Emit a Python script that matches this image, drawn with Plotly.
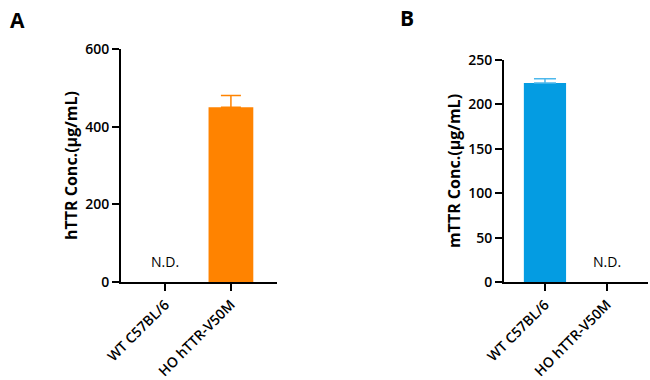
import plotly.graph_objects as go

categories = ["WT C57BL/6", "HO hTTR-V50M"]
httr_mean = [None, 450]
httr_err = [None, 30]
mttr_mean = [224, None]
mttr_err = [5, None]
nd_a = ["N.D.", ""]
nd_b = ["", "N.D."]

orange = "#FF8300"
blue = "#049CE2"
FONT = "Open Sans"
W, H = 650, 380


def px(x):
    return x / W


def py(y):
    return 1 - y / H


fig = go.Figure()
fig.add_trace(go.Bar(x=categories, y=httr_mean, marker=dict(color=orange, line=dict(width=0)),
                     width=0.68,
                     error_y=dict(type="data", symmetric=False, array=httr_err,
                                  arrayminus=[0 if e is not None else None for e in httr_err],
                                  color=orange, thickness=1.5, width=10),
                     xaxis="x", yaxis="y", showlegend=False))
fig.add_trace(go.Bar(x=categories, y=mttr_mean, marker=dict(color=blue, line=dict(width=0)),
                     width=0.68,
                     error_y=dict(type="data", symmetric=False, array=mttr_err,
                                  arrayminus=[0 if e is not None else None for e in mttr_err],
                                  color="#4DB8EC", thickness=1.5, width=11),
                     xaxis="x2", yaxis="y2", showlegend=False))

axcommon = dict(showline=True, linecolor="black", linewidth=2, ticks="outside", ticklen=7,
                tickwidth=2, tickcolor="black", showgrid=False, zeroline=False, automargin=False,
                tickfont=dict(family=FONT, size=14, color="black", weight=600))

fig.update_layout(
    width=W, height=H, margin=dict(l=0, r=0, t=0, b=0, autoexpand=False),
    paper_bgcolor="white", plot_bgcolor="white", bargap=0.3,
    xaxis=dict(domain=[px(121), px(277)], anchor="y", range=[-0.67, 1.7], tickangle=-45, **axcommon),
    yaxis=dict(domain=[py(282), py(49)], anchor="x", range=[0, 600], tickvals=[0, 200, 400, 600],
               title=dict(text="hTTR Conc.(μg/mL)", font=dict(family=FONT, size=16, color="black", weight=700), standoff=4),
               **axcommon),
    xaxis2=dict(domain=[px(504), px(648)], anchor="y2", range=[-0.66, 1.66], tickangle=-45, **axcommon),
    yaxis2=dict(domain=[py(282), py(60)], anchor="x2", range=[0, 250], tickvals=[0, 50, 100, 150, 200, 250],
                title=dict(text="mTTR Conc.(μg/mL)", font=dict(family=FONT, size=16, color="black", weight=700), standoff=4),
                **axcommon),
)

for i, c in enumerate(categories):
    if nd_a[i]:
        fig.add_annotation(x=c, y=0, xref="x", yref="y", text=nd_a[i], showarrow=False,
                           yanchor="bottom", yshift=9, font=dict(family=FONT, size=14, color="black"))
    if nd_b[i]:
        fig.add_annotation(x=c, y=0, xref="x2", yref="y2", text=nd_b[i], showarrow=False,
                           yanchor="bottom", yshift=9, font=dict(family=FONT, size=14, color="black"))

fig.add_annotation(x=px(17), y=py(20), xref="paper", yref="paper", text="A", showarrow=False,
                   xanchor="center", yanchor="middle",
                   font=dict(family=FONT, size=21, color="black", weight=700))
fig.add_annotation(x=px(407), y=py(18), xref="paper", yref="paper", text="B", showarrow=False,
                   xanchor="center", yanchor="middle",
                   font=dict(family=FONT, size=21, color="black", weight=700))

fig.write_html("out.html", config={"displayModeBar": False},
               post_script="document.body.style.margin='0';")
